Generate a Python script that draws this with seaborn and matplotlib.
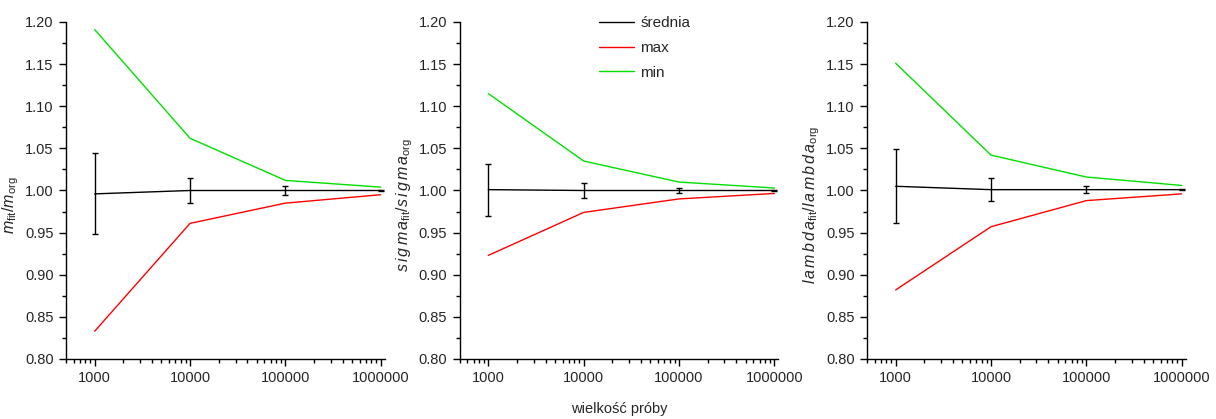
import numpy as np
import pandas as pd
import matplotlib
matplotlib.use("Agg")
import matplotlib.pyplot as plt
import matplotlib.ticker as mticker
import seaborn as sns

# sample sizes
sizes = [1000, 10000, 100000, 1000000]

# m parameter
m_mean = [0.996, 1.000, 1.000, 1.000]
m_err = [0.048, 0.015, 0.005, 0.001]
m_max = [0.833, 0.961, 0.985, 0.995]
m_min = [1.191, 1.062, 1.012, 1.004]

# sigma parameter
s_mean = [1.001, 1.000, 1.000, 1.000]
s_err = [0.031, 0.009, 0.003, 0.001]
s_max = [0.923, 0.974, 0.990, 0.9965]
s_min = [1.115, 1.035, 1.010, 1.003]

# lambda parameter
l_mean = [1.005, 1.001, 1.001, 1.001]
l_err = [0.044, 0.014, 0.004, 0.001]
l_max = [0.882, 0.957, 0.988, 0.996]
l_min = [1.151, 1.042, 1.016, 1.006]

ylabels = [r"$m_{\mathrm{fit}}/m_{\mathrm{org}}$",
           r"$s\,i\,g\,m\,a_{\mathrm{fit}}/s\,i\,g\,m\,a_{\mathrm{org}}$",
           r"$l\,a\,m\,b\,d\,a_{\mathrm{fit}}/l\,a\,m\,b\,d\,a_{\mathrm{org}}$"]

panels = [(m_mean, m_err, m_max, m_min),
          (s_mean, s_err, s_max, s_min),
          (l_mean, l_err, l_max, l_min)]

sns.set_style("ticks")
plt.rcParams["font.family"] = ["Liberation Sans", "DejaVu Sans"]
plt.rcParams["mathtext.fontset"] = "custom"
plt.rcParams["mathtext.rm"] = "Liberation Sans"
plt.rcParams["mathtext.it"] = "Liberation Sans:italic"

fig = plt.figure(figsize=(12.16, 4.19), dpi=100)
lefts = [0.0543, 0.378, 0.713]
palette = {"średnia": "black", "max": "red", "min": "#00e000"}

for i, (mean, err, mx, mn) in enumerate(panels):
    ax = fig.add_axes([lefts[i], 0.1432, 0.262, 0.8043])
    df = pd.DataFrame({
        "n": sizes * 3,
        "val": mean + mx + mn,
        "series": ["średnia"] * 4 + ["max"] * 4 + ["min"] * 4,
    })
    sns.lineplot(data=df, x="n", y="val", hue="series", palette=palette,
                 linewidth=1.0, ax=ax, legend=(i == 1))
    ax.errorbar(sizes, mean, yerr=err, fmt="none", ecolor="black",
                elinewidth=1.0, capsize=2.2, capthick=1.0)
    ax.set_xscale("log")
    ax.set_xlim(500, 1.1e6)
    ax.set_ylim(0.80, 1.20)
    ax.yaxis.set_major_locator(mticker.MultipleLocator(0.05))
    ax.yaxis.set_minor_locator(mticker.MultipleLocator(0.025))
    ax.yaxis.set_major_formatter(mticker.FormatStrFormatter("%.2f"))
    ax.xaxis.set_major_locator(mticker.FixedLocator(sizes))
    ax.xaxis.set_major_formatter(mticker.FuncFormatter(lambda v, p: "%d" % v))
    ax.xaxis.set_minor_locator(mticker.LogLocator(base=10, subs=np.arange(2, 10)))
    ax.xaxis.set_minor_formatter(mticker.NullFormatter())
    ax.tick_params(which="major", direction="out", length=5, width=1, labelsize=10.5,
                   color="black", pad=4)
    ax.tick_params(which="minor", direction="out", length=3, width=1, color="black")
    sns.despine(ax=ax)
    for s in ["left", "bottom"]:
        ax.spines[s].set_linewidth(1.0)
        ax.spines[s].set_color("black")
    ax.set_ylabel(ylabels[i], fontsize=11.5)
    ax.yaxis.set_label_coords(-0.141, 0.457)
    ax.set_xlabel("")
    if i == 1:
        ax.set_xlabel("wielkość próby", fontsize=10.5, labelpad=12)
        leg = ax.legend(loc="upper left", bbox_to_anchor=(0.437, 1.017), frameon=False,
                        borderpad=0, borderaxespad=0,
                        fontsize=11, handlelength=2.3, labelspacing=0.7, handletextpad=0.4)

fig.savefig("out.png", dpi=100)
